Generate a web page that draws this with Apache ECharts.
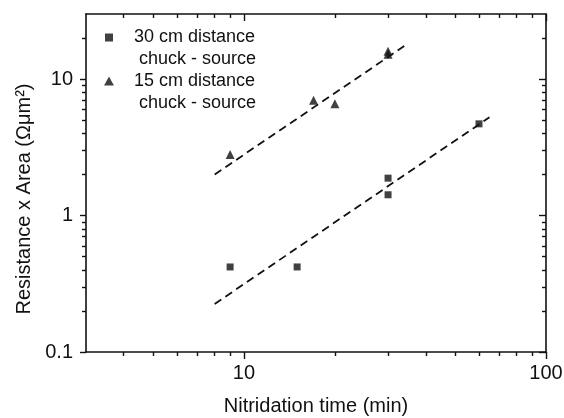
<!DOCTYPE html>
<html><head><meta charset="utf-8">
<script src="https://cdn.jsdelivr.net/npm/echarts@6/dist/echarts.min.js"></script>
<style>html,body{margin:0;padding:0;background:#fff}#c{width:564px;height:418px}</style>
</head><body><div id="c"></div>
<script>
// ---- data ----
const seriesNames = ['30 cm distance\n chuck - source', '15 cm distance\n chuck - source'];
const sqX = [9, 15, 30, 30, 60];
const sqY = [0.42, 0.42, 1.88, 1.42, 4.7];
const triX = [9, 17, 20, 30, 30];
const triY = [2.8, 7.0, 6.6, 16.0, 15.2];
const fitLowX = [8, 65];
const fitLowY = [0.225, 5.25];
const fitHighX = [8, 34.5];
const fitHighY = [2.0, 17.9];
const xRange = [3, 100];
const yRange = [0.1, 30];
const xMajor = [10, 100];
const xMinor = [4, 5, 6, 7, 8, 9, 20, 30, 40, 50, 60, 70, 80, 90];
const yMajor = [0.1, 1, 10];
const yMinor = [0.2, 0.3, 0.4, 0.5, 0.6, 0.7, 0.8, 0.9, 2, 3, 4, 5, 6, 7, 8, 9, 20];
const xTitle = 'Nitridation time (min)';
const yTitle = 'Resistance x Area (\u03A9\u03BCm\u00B2)';

// ---- styling ----
const FONT = 'Liberation Sans, Arial, Helvetica, sans-serif';
const INK = '#111';
const pairs = (xs, ys) => xs.map((x, i) => [x, ys[i]]);
// legend icons: shape centred in a 40x9 box (invisible move-to points fix the box)
const ICON_SQUARE = 'path://M0,0M40,9M16,1L24,1L24,9L16,9Z';
const ICON_TRI = 'path://M0,0M40,9M20,-1L25.5,9L14.5,9Z';

function mkAxis(kind, gridIndex, position, ticks, len, inside, showLine, labels, extra) {
  const range = kind === 'x' ? xRange : yRange;
  return Object.assign({
    type: 'log', logBase: 10, gridIndex, position,
    min: range[0], max: range[1],
    axisLine: { show: showLine, lineStyle: { color: INK, width: 1.6 } },
    axisTick: { show: true, inside, length: len, customValues: ticks, lineStyle: { color: INK, width: 1.4 } },
    axisLabel: labels ? {
      show: true, customValues: ticks, color: INK, fontFamily: FONT, fontSize: 20,
      margin: kind === 'x' ? 11 : 13,
      formatter: v => String(+v.toPrecision(6))
    } : { show: false },
    splitLine: { show: false },
    minorTick: { show: false },
    minorSplitLine: { show: false }
  }, extra || {});
}

const gridRect = { left: 86, top: 14, width: 460, height: 338, containLabel: false, outerBoundsMode: 'none' };

const option = {
  backgroundColor: '#fff',
  animation: false,
  textStyle: { fontFamily: FONT },
  grid: [Object.assign({}, gridRect), Object.assign({}, gridRect)],
  xAxis: [
    mkAxis('x', 0, 'bottom', xMajor, 7, false, true, true, {
      name: xTitle, nameLocation: 'middle', nameGap: 44,
      nameTextStyle: { color: INK, fontFamily: FONT, fontSize: 20 }
    }),
    mkAxis('x', 0, 'top', xMajor, 7, true, true, false),
    mkAxis('x', 1, 'bottom', xMinor, 4, false, false, false),
    mkAxis('x', 1, 'top', xMinor, 4, true, false, false)
  ],
  yAxis: [
    mkAxis('y', 0, 'left', yMajor, 6, false, true, true, {
      name: yTitle, nameLocation: 'middle', nameGap: 50,
      nameTextStyle: { color: INK, fontFamily: FONT, fontSize: 20, padding: [0, 32, 0, 0] }
    }),
    mkAxis('y', 0, 'right', yMajor, 7, true, true, false),
    mkAxis('y', 1, 'left', yMinor, 4, false, false, false),
    mkAxis('y', 1, 'right', yMinor, 4, true, false, false)
  ],
  legend: {
    orient: 'vertical', left: 89, top: 4, padding: 0,
    itemWidth: 40, itemHeight: 9, itemGap: -22,
    symbolKeepAspect: true,
    data: [
      { name: seriesNames[0], icon: ICON_SQUARE, itemStyle: { color: INK, borderWidth: 0 } },
      { name: seriesNames[1], icon: ICON_TRI, itemStyle: { color: INK, borderWidth: 0 } }
    ],
    formatter: n => '\n' + n,
    textStyle: { color: INK, fontFamily: FONT, fontSize: 18, lineHeight: 22 }
  },
  series: [
    {
      name: seriesNames[0], type: 'scatter', xAxisIndex: 0, yAxisIndex: 0,
      symbol: 'rect', symbolSize: 7, itemStyle: { color: INK },
      data: pairs(sqX, sqY), z: 5
    },
    {
      name: seriesNames[1], type: 'scatter', xAxisIndex: 0, yAxisIndex: 0,
      symbol: 'triangle', symbolSize: 9, itemStyle: { color: INK },
      data: pairs(triX, triY), z: 5
    },
    {
      name: 'fitLow', type: 'line', xAxisIndex: 0, yAxisIndex: 0,
      showSymbol: false, symbol: 'none', silent: true,
      lineStyle: { color: INK, width: 1.8, type: [8, 5] },
      data: pairs(fitLowX, fitLowY), z: 3
    },
    {
      name: 'fitHigh', type: 'line', xAxisIndex: 0, yAxisIndex: 0,
      showSymbol: false, symbol: 'none', silent: true,
      lineStyle: { color: INK, width: 1.8, type: [8, 5] },
      data: pairs(fitHighX, fitHighY), z: 3
    }
  ]
};

const chart = echarts.init(document.getElementById('c'), null, { renderer: 'canvas' });
chart.setOption(option);
</script>
</body></html>
